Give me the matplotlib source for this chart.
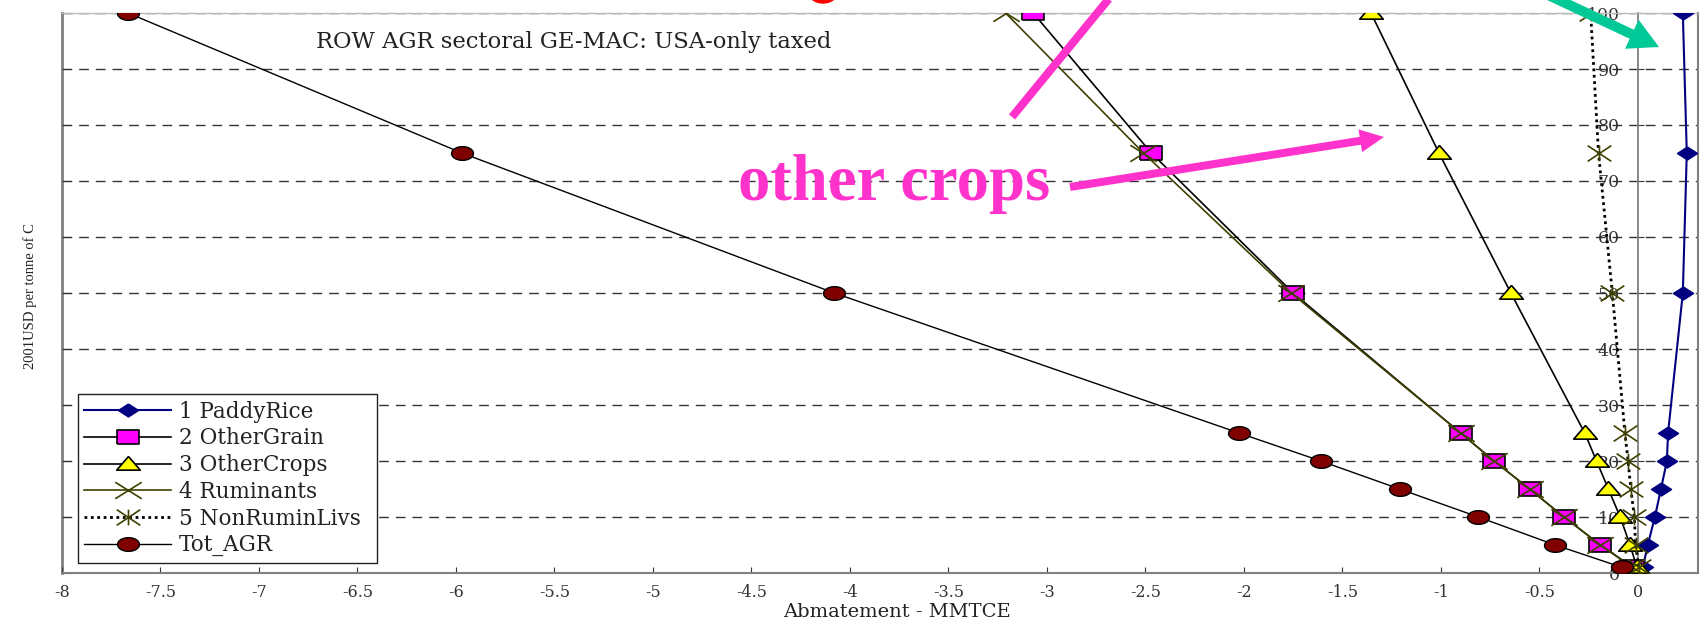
import numpy as np
import matplotlib
matplotlib.use("Agg")
import matplotlib.pyplot as plt
from matplotlib.path import Path
from matplotlib.patches import FancyArrow, Ellipse
from matplotlib.lines import Line2D
from matplotlib.transforms import IdentityTransform

# ---- data ----
price = [1, 5, 10, 15, 20, 25, 50, 75, 100]
paddy_rice = [0.025, 0.05, 0.086, 0.117, 0.147, 0.153, 0.228, 0.248, 0.228]
other_grain = [-0.025, -0.19, -0.375, -0.55, -0.73, -0.90, -1.75, -2.47, -3.07]
other_crops = [-0.005, -0.04, -0.09, -0.15, -0.21, -0.27, -0.645, -1.01, -1.355]
ruminants = [-0.03, -0.19, -0.375, -0.55, -0.73, -0.90, -1.76, -2.51, -3.21]
non_rumin = [0.005, -0.012, -0.018, -0.036, -0.05, -0.066, -0.13, -0.20, -0.24]
tot_agr = [-0.08, -0.42, -0.81, -1.21, -1.61, -2.025, -4.08, -5.97, -7.665]

xticks = [-8, -7.5, -7, -6.5, -6, -5.5, -5, -4.5, -4, -3.5, -3, -2.5, -2, -1.5, -1, -0.5, 0]
xtick_labels = ['-8', '-7.5', '-7', '-6.5', '-6', '-5.5', '-5', '-4.5', '-4',
                '-3.5', '-3', '-2.5', '-2', '-1.5', '-1', '-0.5', '0']
yticks = [0, 10, 20, 30, 40, 50, 60, 70, 80, 90, 100]

W, H = 1706, 627
SERIF = 'DejaVu Serif'
GRAY = '#808080'
PINK = '#FF33CC'


# markers of the original are stretched sideways, so build them by hand
def mk(verts, codes=None):
    return Path(np.array(verts, dtype=float), codes)

t = np.linspace(0, 2 * np.pi, 41)
m_ellipse = mk(np.column_stack([1.6 * np.cos(t), np.sin(t)]))
m_square = mk([(-1.7, -1), (1.7, -1), (1.7, 1), (-1.7, 1), (-1.7, -1)])
m_tri = mk([(0, 0.68), (-1, -0.48), (1, -0.48), (0, 0.68)])
m_diamond = mk([(0, 1), (1.55, 0), (0, -1), (-1.55, 0), (0, 1)])
m_x = mk([(-1.6, -1), (1.6, 1), (-1.6, 1), (1.6, -1)],
         [Path.MOVETO, Path.LINETO, Path.MOVETO, Path.LINETO])
m_star = mk([(-1.5, -1), (1.5, 1), (-1.5, 1), (1.5, -1), (0, -1), (0, 1)],
            [Path.MOVETO, Path.LINETO, Path.MOVETO, Path.LINETO, Path.MOVETO, Path.LINETO])

fig = plt.figure(figsize=(W / 100, H / 100), dpi=100)
ax = fig.add_axes([62 / W, 1 - 573 / H, 1636 / W, 560 / H])

# y axis sits on x = 0, as in the original (set before the tick labels)
ax.spines['left'].set_position(('data', 0))

ax.plot(paddy_rice, price, color='#000080', lw=1.5, marker=m_diamond, ms=14.5,
        mfc='#000080', mec='#000080', label='1 PaddyRice', zorder=3)
ax.plot(other_grain, price, color='black', lw=1.2, marker=m_square, ms=16.5,
        mfc='#FF00FF', mec='black', mew=1.2, label='2 OtherGrain', zorder=3)
ax.plot(other_crops, price, color='black', lw=1.2, marker=m_tri, ms=17,
        mfc='#FFFF00', mec='black', mew=1.2, label='3 OtherCrops', zorder=3)
ax.plot(ruminants, price, color='#404000', lw=1.2, marker=m_x, ms=19,
        mec='#404000', mew=1.2, label='4 Ruminants', zorder=4)
ax.plot(non_rumin, price, color='black', lw=2, ls=(0, (1, 1.3)), marker=m_star, ms=17,
        mec='#404000', mew=1.2, label='5 NonRuminLivs', zorder=4)
ax.plot(tot_agr, price, color='black', lw=1, marker=m_ellipse, ms=15.8,
        mfc='#800000', mec='black', mew=1, label='Tot_AGR', zorder=5)

ax.set_xlim(-8, 0.305)
ax.set_ylim(0, 100)

ax.set_xticks(xticks)
ax.set_xticklabels(xtick_labels, fontfamily=SERIF, fontsize=11.5, color='#333333')
ax.set_yticks(yticks)
ax.set_yticklabels([str(v) for v in yticks], fontfamily=SERIF, fontsize=12.5, color='#333333')
ax.tick_params(axis='x', direction='in', length=4, pad=8, color='#333333')
ax.tick_params(axis='y', direction='in', length=4, pad=13, color='#333333')

ax.spines['left'].set_color(GRAY)
ax.spines['left'].set_linewidth(1.3)
ax.spines['bottom'].set_color(GRAY)
ax.spines['bottom'].set_linewidth(1.5)
ax.spines['right'].set_color(GRAY)
ax.spines['right'].set_linewidth(1.5)
ax.spines['top'].set_color('#bbbbbb')
ax.spines['top'].set_linewidth(1)

ax.yaxis.grid(True, linestyle=(0, (7, 5)), color='#333333', lw=1)
ax.set_axisbelow(True)

# border on the far left with its own small ticks
sec = ax.secondary_yaxis(0.0)
sec.set_yticks(yticks)
sec.tick_params(direction='in', length=6, labelleft=False, color='#333333')
sec.spines['left'].set_color(GRAY)
sec.spines['left'].set_linewidth(2)

leg = ax.legend(loc='lower left', bbox_to_anchor=(0.0098, 0.018, 0.183, 0.3),
                mode='expand', borderaxespad=0, fancybox=False, framealpha=1,
                edgecolor='#222222', numpoints=1, handlelength=4.0,
                handletextpad=0.4, borderpad=0.3, labelspacing=0.22,
                prop={'family': SERIF, 'size': 15.5})
leg.get_frame().set_linewidth(1)
for txt in leg.get_texts():
    txt.set_color('#222222')

fig.text(316 / W, 1 - 42 / H, 'ROW AGR sectoral GE-MAC: USA-only taxed',
         fontfamily=SERIF, fontsize=16.3, color='#222222', ha='left', va='center')
fig.text(897 / W, 1 - 612 / H, 'Abmatement - MMTCE', fontfamily=SERIF,
         fontsize=14, color='#222222', ha='center', va='center')
fig.text(30 / W, 1 - 296 / H, '2001USD per tonne of C', fontfamily='Liberation Serif',
         fontsize=10.5, color='#222222', rotation=90, ha='center', va='center')

# slide annotations
fig.text(738 / W, 1 - 200 / H, 'other crops', fontfamily='Liberation Serif',
         fontweight='bold', fontsize=46.5, color=PINK, ha='left', va='baseline')

idt = IdentityTransform()
fig.add_artist(FancyArrow(1070, H - 187, 314, 50, width=8, head_width=23,
                          head_length=24, length_includes_head=True,
                          color=PINK, lw=0, transform=idt))
fig.add_artist(Line2D([1012, 1112], [H - 117, H + 5], color=PINK, lw=5.8,
                      solid_capstyle='butt', transform=idt))
fig.add_artist(FancyArrow(1546, H + 6, 113, -53, width=10, head_width=32,
                          head_length=30, length_includes_head=True,
                          color='#00C997', lw=0, transform=idt))
fig.add_artist(Ellipse((823, H + 9), 30, 24, color='red', transform=idt))

fig.savefig('out.png', dpi=100)
